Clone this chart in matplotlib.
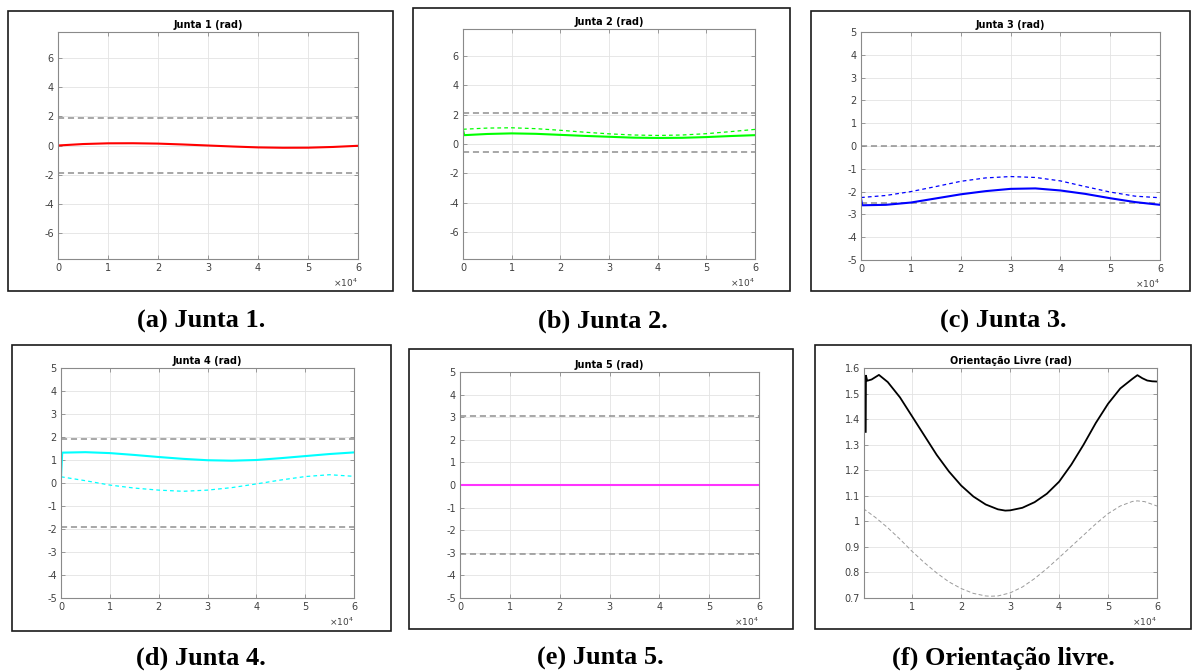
import matplotlib
matplotlib.use('Agg')
import matplotlib.pyplot as plt
from matplotlib.patches import Rectangle

W, H = 1194, 672

# time grid (samples)
t_std = [0, 5000, 10000, 15000, 20000, 25000, 30000, 35000, 40000, 45000, 50000, 55000, 60000]
t_step = [0, 250] + t_std[1:]  # initial jump right after t=0

q1 = [0.0, 0.1, 0.15, 0.155, 0.13, 0.07, 0.0, -0.07, -0.13, -0.155, -0.15, -0.1, -0.02]
q1_lim = [1.92, -1.92]

q2 = [0.95, 0.6, 0.68, 0.72, 0.69, 0.62, 0.55, 0.49, 0.43, 0.41, 0.42, 0.47, 0.54, 0.6]
q2_ref = [1.0, 1.08, 1.1, 1.04, 0.93, 0.8, 0.69, 0.61, 0.58, 0.61, 0.7, 0.84, 0.99]
q2_lim = [2.1, -0.56]

q3 = [-2.3, -2.6, -2.58, -2.48, -2.3, -2.12, -1.98, -1.88, -1.86, -1.95, -2.1, -2.29, -2.46, -2.58]
q3_ref = [-2.26, -2.17, -2.0, -1.78, -1.55, -1.4, -1.34, -1.38, -1.53, -1.78, -2.02, -2.2, -2.27]
q3_lim = [0.0, -2.5]

q4 = [0.27, 1.32, 1.34, 1.3, 1.22, 1.13, 1.05, 0.99, 0.97, 1.0, 1.08, 1.17, 1.26, 1.33]
q4_ref = [0.27, 0.1, -0.09, -0.22, -0.31, -0.36, -0.31, -0.2, -0.04, 0.13, 0.28, 0.36, 0.29]
q4_lim = [1.93, -1.93]

q5 = [0.0] * 13
q5_lim = [3.07, -3.07]

t_ori = [500, 550, 800, 1700, 3200, 5000, 7500, 10000, 12500, 15000, 17500, 20000, 22500,
         25000, 27500, 29000, 30000, 32500, 35000, 37500, 40000, 42500, 45000, 47500,
         50000, 52500, 55000, 56000, 57000, 58000, 59000, 60000]
ori = [1.35, 1.57, 1.55, 1.555, 1.573, 1.545, 1.485, 1.41, 1.335, 1.26, 1.195, 1.14, 1.097,
       1.066, 1.047, 1.042, 1.043, 1.053, 1.075, 1.108, 1.155, 1.222, 1.3, 1.385,
       1.46, 1.52, 1.558, 1.572, 1.56, 1.551, 1.548, 1.547]
t_ori_ref = [0, 2500, 5000, 7500, 10000, 12500, 15000, 17500, 20000, 22500, 25000, 26000,
             27500, 30000, 32500, 35000, 37500, 40000, 42500, 45000, 47500, 50000, 52500,
             55000, 56000, 57500, 60000]
ori_ref = [1.05, 1.015, 0.975, 0.93, 0.882, 0.838, 0.798, 0.763, 0.737, 0.718, 0.708, 0.707,
           0.708, 0.72, 0.743, 0.776, 0.815, 0.858, 0.902, 0.946, 0.99, 1.03, 1.06,
           1.078, 1.08, 1.077, 1.06]

titles = ['Junta 1 (rad)', 'Junta 2 (rad)', 'Junta 3 (rad)',
          'Junta 4 (rad)', 'Junta 5 (rad)', 'Orientação Livre (rad)']
captions = ['(a) Junta 1.', '(b) Junta 2.', '(c) Junta 3.',
            '(d) Junta 4.', '(e) Junta 5.', '(f) Orientação livre.']

# pixel boxes (left, top, right, bottom)
ax_px = [(58, 32, 358, 259), (463, 29, 755, 259), (861, 32, 1160, 260),
         (61, 368, 354, 598), (460, 372, 759, 598), (864, 368, 1157, 598)]
frame_px = [(8, 11, 393, 291), (413, 8, 790, 291), (811, 11, 1190, 291),
            (12, 345, 391, 631), (409, 349, 793, 629), (815, 345, 1191, 629)]
cap_px = [(201, 321), (603, 321), (1003, 321), (201, 658), (600, 658), (1003, 658)]


def px_rect(l, t, r, b):
    return [l / W, 1 - b / H, (r - l) / W, (b - t) / H]


def style(ax, title):
    ax.grid(True, color='#e3e3e3', lw=0.6)
    ax.set_axisbelow(True)
    for s in ax.spines.values():
        s.set_color('#8a8a8a')
        s.set_linewidth(0.8)
    ax.tick_params(direction='in', length=3, width=0.6, top=True, right=True,
                   labelsize=7, colors='#8a8a8a', labelcolor='#404040', pad=3)
    ax.set_title(title, fontsize=7, fontweight='bold', pad=3)


fig = plt.figure(figsize=(W / 100, H / 100), dpi=100)

for (l, t, r, b) in frame_px:
    fig.patches.append(Rectangle((l / W, 1 - b / H), (r - l) / W, (b - t) / H,
                                 transform=fig.transFigure, fill=False,
                                 edgecolor='#1a1a1a', lw=1.2))

axes = [fig.add_axes(px_rect(*p)) for p in ax_px]

panels = [
    (q1, None, q1_lim, 'red', (-7.8, 7.8), [-6, -4, -2, 0, 2, 4, 6], t_std),
    (q2, q2_ref, q2_lim, '#00ff00', (-7.8, 7.8), [-6, -4, -2, 0, 2, 4, 6], t_step),
    (q3, q3_ref, q3_lim, 'blue', (-5, 5), list(range(-5, 6)), t_step),
    (q4, q4_ref, q4_lim, 'cyan', (-5, 5), list(range(-5, 6)), t_step),
    (q5, None, q5_lim, '#ff33ff', (-5, 5), list(range(-5, 6)), t_std),
]

for ax, (q, qref, lim, col, ylim, yt, tq), title in zip(axes[:5], panels, titles[:5]):
    for v in lim:
        ax.plot([0, 60000], [v, v], ls='--', color='#8f8f8f', lw=1.1, dashes=(4, 2.5))
    if qref is not None:
        ax.plot(t_std, qref, ls='--', color=col, lw=0.9, dashes=(3, 2.5))
    ax.plot(tq, q, color=col, lw=1.5)
    ax.set_xlim(0, 60000)
    ax.set_ylim(*ylim)
    ax.set_yticks(yt)
    ax.set_yticklabels([str(v) for v in yt])
    ax.set_xticks([0, 10000, 20000, 30000, 40000, 50000, 60000])
    ax.set_xticklabels(['0', '1', '2', '3', '4', '5', '6'])
    style(ax, title)

ax = axes[5]
ax.plot(t_ori_ref, ori_ref, ls='--', color='#9a9a9a', lw=0.7, dashes=(4, 2.5))
ax.plot(t_ori, ori, color='black', lw=1.3)
ax.set_xlim(150, 60000)
ax.set_ylim(0.7, 1.6)
oy = [0.7, 0.8, 0.9, 1.0, 1.1, 1.2, 1.3, 1.4, 1.5, 1.6]
ax.set_yticks(oy)
ax.set_yticklabels(['0.7', '0.8', '0.9', '1', '1.1', '1.2', '1.3', '1.4', '1.5', '1.6'])
ax.set_xticks([10000, 20000, 30000, 40000, 50000, 60000])
ax.set_xticklabels(['1', '2', '3', '4', '5', '6'])
style(ax, titles[5])

for (l, t, r, b) in ax_px:
    fig.text(r / W, 1 - (b + 24) / H, r'$\times10^4$', ha='right', va='center',
             fontsize=6.5, color='#404040')

for (cx, cy), cap in zip(cap_px, captions):
    fig.text(cx / W, 1 - cy / H, cap, ha='center', va='center',
             family='Liberation Serif', fontweight='bold', fontsize=19)

fig.savefig('out.png', dpi=100)
